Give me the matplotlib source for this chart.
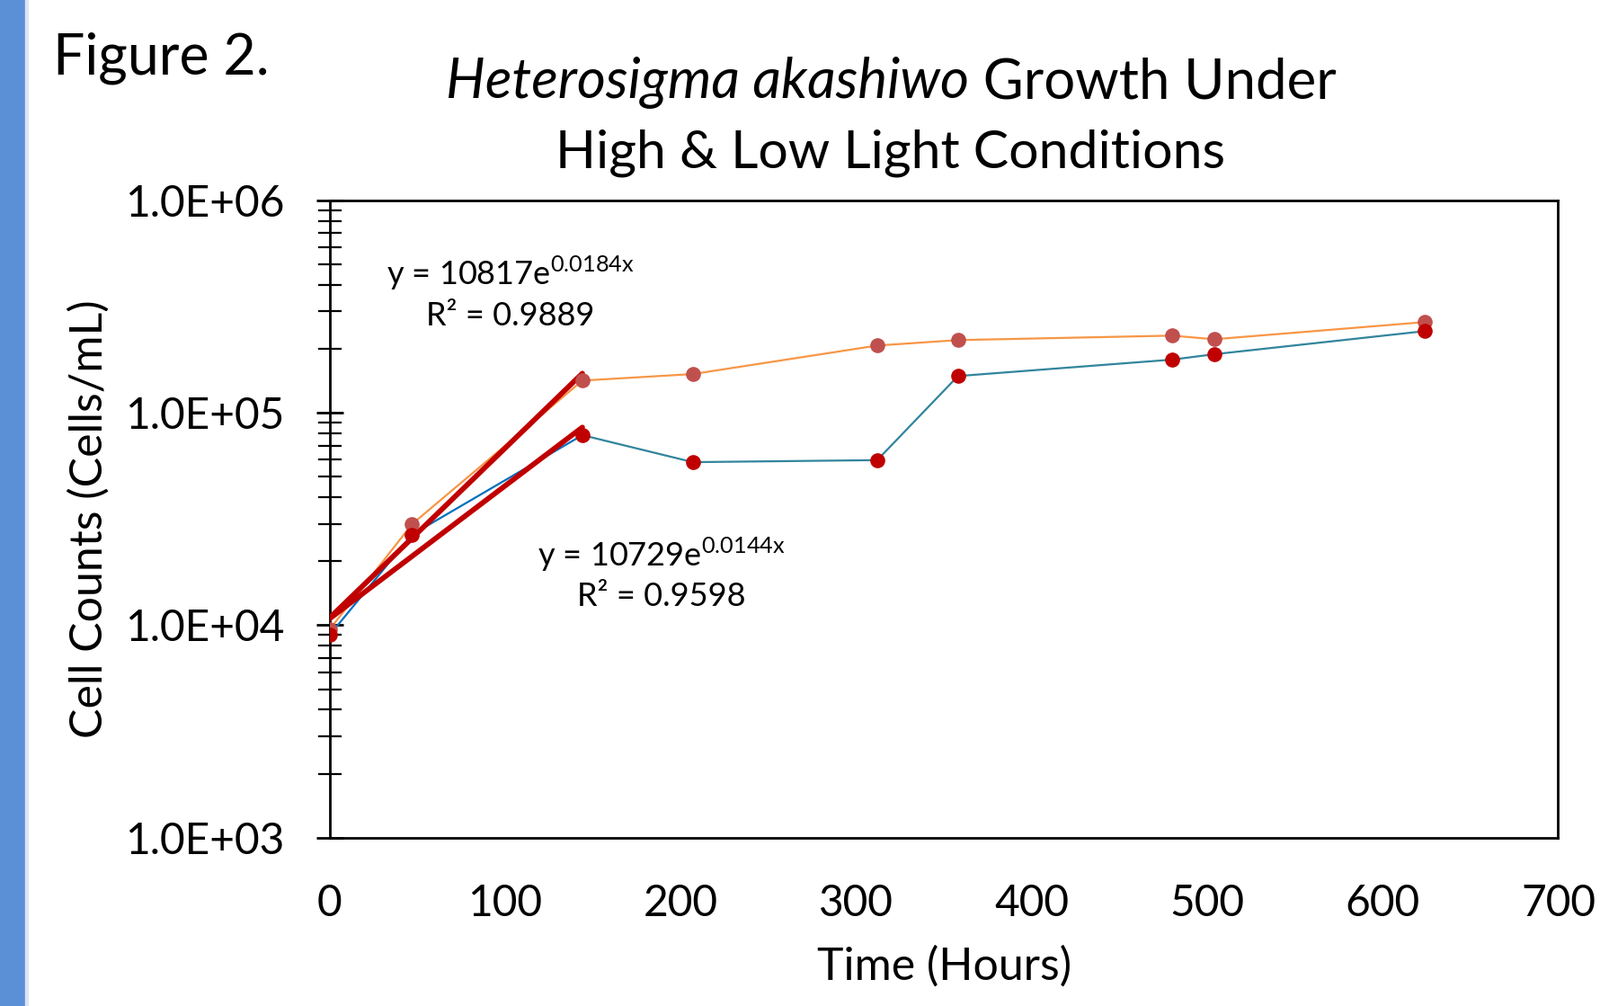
import numpy as np
import matplotlib
matplotlib.use("Agg")
import matplotlib.pyplot as plt
from matplotlib.ticker import LogLocator, FuncFormatter, NullFormatter
from matplotlib.patches import Rectangle

plt.rcParams['font.family'] = ['Lato', 'DejaVu Sans']
plt.rcParams['mathtext.fontset'] = 'custom'
plt.rcParams['mathtext.rm'] = 'Lato'

# Data
hours = [0, 47, 144, 207, 312, 358, 480, 504, 624]
high_light = [9550, 29900, 141600, 152000, 207000, 219600, 230500, 221600, 266900]
low_light = [8980, 26700, 78400, 58500, 59800, 148700, 177700, 188400, 242000]

# Exponential trendlines (first 144 h) as printed on the chart
trend_a = [10817, 10729]
trend_b = [0.0184, 0.0144]
trend_r2 = ["0.9889", "0.9598"]
trend_end = 144

W, H = 1780, 1119
fig = plt.figure(figsize=(W / 100, H / 100), dpi=100)
ax = fig.add_axes([366.7 / W, 1 - 931.7 / H, (1733.5 - 366.7) / W, (931.7 - 222.7) / H])

# Blue side bar
fig.patches.append(Rectangle((0, 0), 28 / W, 1, transform=fig.transFigure,
                             color='#5B8FD6', zorder=0))
fig.patches.append(Rectangle((28 / W, 0), 3 / W, 1, transform=fig.transFigure,
                             color='#DCE6F4', zorder=0))

# Series lines
ax.plot(hours, high_light, color='#F79646', lw=1.6, zorder=2)
ax.plot(hours[:3], low_light[:3], color='#0070C0', lw=1.6, zorder=2)
ax.plot(hours[2:], low_light[2:], color='#31859C', lw=1.6, zorder=2)

# Trendlines
tx = np.linspace(0, trend_end, 50)
for a, b in zip(trend_a, trend_b):
    ax.plot(tx, a * np.exp(b * tx), color='#C00000', lw=4.2, zorder=3,
            solid_capstyle='round')

# Markers
ax.plot(hours, high_light, 'o', color='#C0504D', ms=12, mew=0, zorder=4)
ax.plot(hours, low_light, 'o', color='#C00000', ms=12, mew=0, zorder=4)

ax.set_yscale('log')
ax.set_ylim(1e3, 1e6)
ax.set_xlim(0, 700)
ax.set_xticks(range(0, 701, 100))
ax.yaxis.set_major_locator(LogLocator(base=10, numticks=10))
ax.yaxis.set_minor_locator(LogLocator(base=10, subs=np.arange(2, 10), numticks=20))
ax.yaxis.set_minor_formatter(NullFormatter())
ax.yaxis.set_major_formatter(FuncFormatter(
    lambda v, p: "1.0E+{:02d}".format(int(round(np.log10(v))))))

for s in ax.spines.values():
    s.set_linewidth(2.0)
ax.tick_params(axis='y', which='major', direction='inout', length=22, width=2.0,
               labelsize=34.5, pad=25)
ax.tick_params(axis='y', which='minor', direction='inout', length=19, width=1.6)
ax.tick_params(axis='x', which='major', length=0, labelsize=34.5, pad=37)

ax.set_xlabel('Time (Hours)', fontsize=36, labelpad=18)
ax.set_ylabel('Cell Counts (Cells/mL)', fontsize=36, labelpad=12)

# Trendline equations
ax.text(0.147, 0.885, "y = %de$^{\\mathregular{%s}}$" % (trend_a[0], str(trend_b[0]) + "x"),
        transform=ax.transAxes, fontsize=26, ha='center', va='center')
ax.text(0.147, 0.818, "R² = " + trend_r2[0], transform=ax.transAxes,
        fontsize=26, ha='center', va='center')
ax.text(0.270, 0.4447, "y = %de$^{\\mathregular{%s}}$" % (trend_a[1], str(trend_b[1]) + "x"),
        transform=ax.transAxes, fontsize=26, ha='center', va='center')
ax.text(0.270, 0.3776, "R² = " + trend_r2[1], transform=ax.transAxes,
        fontsize=26, ha='center', va='center')

# Title: italic species name + normal text, centred together
tcx = 991 / W
t1 = fig.text(tcx, 1 - 92 / H, "Heterosigma akashiwo", fontsize=44.5,
              style='italic', ha='right', va='center')
t2 = fig.text(tcx, 1 - 92 / H, " Growth Under", fontsize=44.5,
              ha='left', va='center')
fig.canvas.draw()
r = fig.canvas.get_renderer()
w1 = t1.get_window_extent(r).width / W
w2 = t2.get_window_extent(r).width / W
shift = (w1 - w2) / 2
t1.set_x(tcx + shift)
t2.set_x(tcx + shift)
fig.text(tcx, 1 - 170 / H, "High & Low Light Conditions", fontsize=42.5,
         ha='center', va='center')

fig.text(59 / W, 1 - 65 / H, "Figure 2.", fontsize=45, ha='left', va='center')

fig.savefig('out.png', dpi=100)
